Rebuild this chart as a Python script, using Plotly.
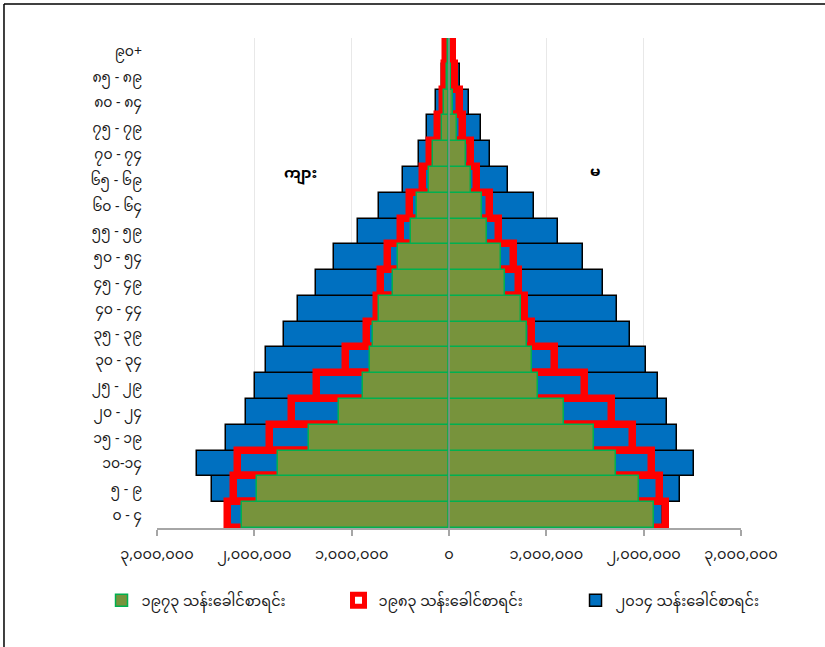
import plotly.graph_objects as go

age_labels = ["၀ - ၄", "၅ - ၉", "၁၀-၁၄", "၁၅ - ၁၉", "၂၀ - ၂၄", "၂၅ - ၂၉", "၃၀ - ၃၄",
              "၃၅ - ၃၉", "၄၀ - ၄၄", "၄၅ - ၄၉", "၅၀ - ၅၄", "၅၅ - ၅၉", "၆၀ - ၆၄",
              "၆၅ - ၆၉", "၇၀ - ၇၄", "၇၅ - ၇၉", "၈၀ - ၈၄", "၈၅ - ၈၉", "၉၀+"]

male_2014 = [2250000, 2430000, 2590000, 2290000, 2090000, 1990000, 1885000, 1700000, 1550000,
             1370000, 1180000, 940000, 720000, 470000, 310000, 230000, 134000, 70000, 55000]
female_2014 = [2200000, 2370000, 2515000, 2340000, 2240000, 2150000, 2020000, 1857000, 1730000,
               1580000, 1380000, 1120000, 870000, 605000, 417000, 330000, 210000, 108000, 57000]

male_1983 = [2270000, 2210000, 2170000, 1840000, 1610000, 1360000, 1060000, 840000, 740000,
             700000, 630000, 490000, 400000, 270000, 200000, 110000, 65000, 45000, 30000]
female_1983 = [2230000, 2170000, 2090000, 1890000, 1670000, 1400000, 1085000, 850000, 780000,
               720000, 667000, 510000, 417000, 290000, 228000, 139000, 108000, 64000, 40000]

male_1973 = [2130000, 1970000, 1760000, 1440000, 1130000, 880000, 815000, 780000, 720000,
             580000, 520000, 390000, 330000, 210000, 160000, 70000, 50000, 20000, 10000]
female_1973 = [2110000, 1950000, 1720000, 1490000, 1180000, 910000, 850000, 800000, 740000,
               580000, 530000, 390000, 340000, 230000, 177000, 80000, 40000, 20000, 10000]

x_tick_vals = [-3000000, -2000000, -1000000, 0, 1000000, 2000000, 3000000]
x_tick_text = ["၃,၀၀၀,၀၀၀", "၂,၀၀၀,၀၀၀", "၁,၀၀၀,၀၀၀", "၀", "၁,၀၀၀,၀၀၀", "၂,၀၀၀,၀၀၀", "၃,၀၀၀,၀၀၀"]

name_1973 = "၁၉၇၃ သန်းခေါင်စာရင်း"
name_1983 = "၁၉၈၃ သန်းခေါင်စာရင်း"
name_2014 = "၂၀၁၄ သန်းခေါင်စာရင်း"
male_label = "ကျား"
female_label = "မ"

FONT = "Noto Sans Myanmar, Padauk, Myanmar Text, Noto Sans, sans-serif"

fig = go.Figure()

# 2014 (blue, back)
fig.add_trace(go.Bar(y=age_labels, x=[-v for v in male_2014], orientation="h",
                     marker=dict(color="#0070C0", line=dict(color="black", width=1.5)),
                     name=name_2014, legendgroup="2014", showlegend=False, legendrank=3))
fig.add_trace(go.Bar(y=age_labels, x=female_2014, orientation="h",
                     marker=dict(color="#0070C0", line=dict(color="black", width=1.5)),
                     name=name_2014, legendgroup="2014", showlegend=True, legendrank=3))

# 1983 (red outline)
fig.add_trace(go.Bar(y=age_labels, x=[-v for v in male_1983], orientation="h",
                     marker=dict(color="rgba(0,0,0,0)", line=dict(color="#FF0000", width=7.5)),
                     name=name_1983, legendgroup="1983", showlegend=False, legendrank=2))
fig.add_trace(go.Bar(y=age_labels, x=female_1983, orientation="h",
                     marker=dict(color="rgba(0,0,0,0)", line=dict(color="#FF0000", width=7.5)),
                     name=name_1983, legendgroup="1983", showlegend=True, legendrank=2))

# 1973 (green, front)
fig.add_trace(go.Bar(y=age_labels, x=[-v for v in male_1973], orientation="h",
                     marker=dict(color="#77933C", line=dict(color="#00B050", width=1.5)),
                     name=name_1973, legendgroup="1973", showlegend=False, legendrank=1))
fig.add_trace(go.Bar(y=age_labels, x=female_1973, orientation="h",
                     marker=dict(color="#77933C", line=dict(color="#00B050", width=1.5)),
                     name=name_1973, legendgroup="1973", showlegend=True, legendrank=1))

fig.update_layout(
    width=825, height=647,
    margin=dict(l=157, r=84, t=38, b=119),
    paper_bgcolor="white", plot_bgcolor="white",
    barmode="overlay", bargap=0,
    font=dict(family=FONT, size=14, color="#1a1a1a"),
    showlegend=True,
    legend=dict(orientation="h", x=-0.095, y=-0.115, xanchor="left", yanchor="top",
                traceorder="normal", entrywidth=192, entrywidthmode="pixels",
                font=dict(size=14.5, color="#1a1a1a"), bgcolor="rgba(0,0,0,0)"),
    xaxis=dict(range=[-3000000, 3000000], tickvals=x_tick_vals, ticktext=x_tick_text,
               showgrid=True, gridcolor="#E8E8E8", gridwidth=1, zeroline=False,
               showline=True, linecolor="#A6A6A6", linewidth=1.5,
               ticks="outside", ticklen=6, tickcolor="#A6A6A6", tickwidth=1.5,
               ticklabelstandoff=6, tickfont=dict(size=14.5, color="#1a1a1a"),
               fixedrange=True, automargin=False),
    yaxis=dict(showgrid=False, zeroline=False, showline=False, ticks="",
               ticklabelstandoff=14, tickfont=dict(size=14, color="#1a1a1a"),
               fixedrange=True, automargin=False),
    shapes=[
        dict(type="line", xref="x", yref="paper", x0=0, x1=0, y0=0, y1=1.0,
             line=dict(color="#8C8C8C", width=1.5), layer="above"),
        dict(type="line", xref="paper", yref="paper", x0=-0.262, x1=-0.262, y0=-0.25, y1=1.0694,
             line=dict(color="black", width=1.5)),
        dict(type="line", xref="paper", yref="paper", x0=-0.262, x1=1.2, y0=1.0694, y1=1.0694,
             line=dict(color="black", width=1.5)),
    ],
    annotations=[
        dict(text="<b>" + male_label + "</b>", xref="paper", yref="paper", x=0.214, y=0.76,
             showarrow=False, font=dict(size=15, color="black")),
        dict(text="<b>" + female_label + "</b>", xref="paper", yref="paper", x=0.762, y=0.764,
             showarrow=False, font=dict(size=15, color="black")),
    ],
)

fig.write_html("out.html", config={"displayModeBar": False},
               post_script="document.body.style.margin='0';document.body.style.overflow='hidden';")
